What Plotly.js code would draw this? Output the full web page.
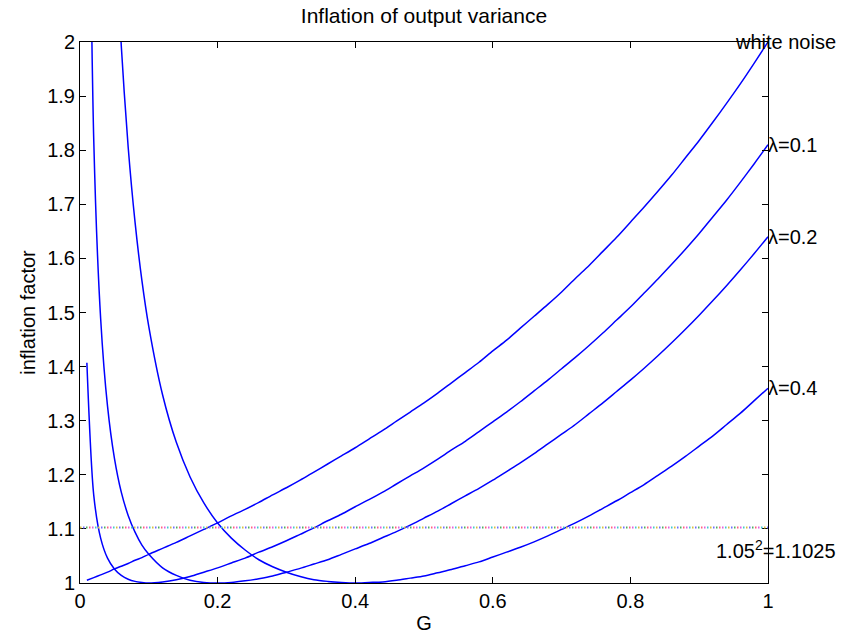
<!DOCTYPE html>
<html>
<head>
<meta charset="utf-8">
<script src="https://cdn.plot.ly/plotly-3.0.1.min.js"></script>
<style>
  html, body { margin: 0; padding: 0; background: #fff; }
  #chart { width: 846px; height: 639px; }
</style>
</head>
<body>
<div id="chart"></div>
<script>
// Loop gain G
const G = [0.01, 0.02, 0.03, 0.04, 0.05, 0.06, 0.07, 0.08, 0.09, 0.10,
  0.12, 0.14, 0.16, 0.18, 0.20, 0.22, 0.24, 0.26, 0.28, 0.30,
  0.32, 0.34, 0.36, 0.38, 0.40, 0.42, 0.44, 0.46, 0.48, 0.50,
  0.52, 0.54, 0.56, 0.58, 0.60, 0.62, 0.64, 0.66, 0.68, 0.70,
  0.72, 0.74, 0.76, 0.78, 0.80, 0.82, 0.84, 0.86, 0.88, 0.90,
  0.92, 0.94, 0.96, 0.98, 1.00];

// Inflation factor of the output variance, white-noise disturbance
const whiteNoise = [1.005, 1.010, 1.015, 1.020, 1.026, 1.031, 1.036, 1.042, 1.047, 1.053,
  1.064, 1.075, 1.087, 1.099, 1.111, 1.124, 1.136, 1.149, 1.163, 1.176,
  1.190, 1.205, 1.220, 1.235, 1.250, 1.266, 1.282, 1.299, 1.316, 1.333,
  1.351, 1.370, 1.389, 1.408, 1.429, 1.449, 1.471, 1.493, 1.515, 1.538,
  1.563, 1.587, 1.613, 1.639, 1.667, 1.695, 1.724, 1.754, 1.786, 1.818,
  1.852, 1.887, 1.923, 1.961, 2.000];

// lambda = 0.1
const lambda01 = [1.407, 1.162, 1.083, 1.046, 1.026, 1.014, 1.007, 1.003, 1.001, 1.000,
  1.002, 1.006, 1.012, 1.020, 1.028, 1.037, 1.046, 1.057, 1.067, 1.078,
  1.090, 1.102, 1.115, 1.127, 1.141, 1.154, 1.168, 1.183, 1.198, 1.213,
  1.229, 1.246, 1.262, 1.280, 1.298, 1.316, 1.335, 1.355, 1.375, 1.396,
  1.417, 1.439, 1.462, 1.486, 1.510, 1.536, 1.562, 1.589, 1.617, 1.646,
  1.677, 1.708, 1.741, 1.775, 1.810];

// lambda = 0.2
const lambda02 = [2.814, 1.818, 1.489, 1.327, 1.231, 1.168, 1.125, 1.094, 1.070, 1.053,
  1.028, 1.014, 1.005, 1.001, 1.000, 1.001, 1.004, 1.008, 1.013, 1.020,
  1.027, 1.035, 1.043, 1.053, 1.063, 1.073, 1.084, 1.095, 1.107, 1.120,
  1.133, 1.147, 1.161, 1.175, 1.190, 1.206, 1.222, 1.239, 1.257, 1.275,
  1.293, 1.313, 1.333, 1.354, 1.375, 1.397, 1.420, 1.444, 1.469, 1.495,
  1.522, 1.550, 1.579, 1.609, 1.640];

// lambda = 0.4
const lambda04 = [8.643, 4.646, 3.316, 2.653, 2.256, 1.993, 1.806, 1.667, 1.559, 1.474,
  1.348, 1.260, 1.196, 1.148, 1.111, 1.083, 1.061, 1.043, 1.030, 1.020,
  1.012, 1.006, 1.003, 1.001, 1.000, 1.001, 1.002, 1.005, 1.009, 1.013,
  1.019, 1.025, 1.032, 1.039, 1.048, 1.057, 1.066, 1.076, 1.087, 1.099,
  1.111, 1.124, 1.138, 1.152, 1.167, 1.182, 1.199, 1.216, 1.234, 1.253,
  1.272, 1.293, 1.314, 1.337, 1.360];

// Acceptable limit: 1.05^2
const limit = 1.1025;

const seriesNames = ['white noise', 'λ=0.1', 'λ=0.2', 'λ=0.4'];
const seriesValues = [whiteNoise, lambda01, lambda02, lambda04];
const labelY = [2.0, 1.81, 1.64, 1.36];
const labelX = [0.952, 1.0, 1.0, 1.0];

const FONT = 'Liberation Sans, Arial, Helvetica, sans-serif';
const FS = 20;

const traces = seriesValues.map((vals, i) => ({
  x: G,
  y: vals,
  type: 'scatter',
  mode: 'lines',
  name: seriesNames[i],
  line: { color: '#0000ff', width: 1.5, shape: 'spline', smoothing: 0.8 },
  hoverinfo: 'x+y'
}));

// multicoloured dotted line at the limit, built from phase-shifted dash patterns
const dotColors = ['#d8c040', '#6f6fff', '#50b060', '#ff6080', '#e060e0', '#40c8d0'];
const pxPerUnit = 688;
const shapes = dotColors.map((c, k) => ({
  type: 'line', xref: 'x', yref: 'y',
  x0: (k * 3) / pxPerUnit, x1: 1, y0: limit, y1: limit,
  line: { color: c, width: 2, dash: '1.5px,16.5px' }
}));

const annotations = seriesNames.map((name, i) => ({
  x: labelX[i], y: labelY[i], xref: 'x', yref: 'y',
  text: name, showarrow: false,
  xanchor: 'left', yanchor: 'middle',
  xshift: -2,
  font: { family: FONT, size: FS, color: '#000' }
}));
annotations.push({
  x: 0.921, y: 1.062, xref: 'x', yref: 'y',
  text: '1.05<sup>2</sup>=1.1025', showarrow: false,
  xanchor: 'left', yanchor: 'middle',
  font: { family: FONT, size: FS, color: '#000' }
});

const layout = {
  width: 846, height: 639,
  margin: { l: 80, r: 78, t: 42, b: 56 },
  paper_bgcolor: '#fff', plot_bgcolor: '#fff',
  showlegend: false,
  font: { family: FONT, size: FS, color: '#000' },
  title: {
    text: 'Inflation of output variance',
    font: { family: FONT, size: 21, color: '#000' },
    x: 0.5, xref: 'paper', y: 1 - 16 / 639, yref: 'container', yanchor: 'middle'
  },
  xaxis: {
    range: [0, 1], dtick: 0.2, tick0: 0,
    ticks: 'inside', ticklen: 6, tickcolor: '#000',
    showline: true, linecolor: '#000', linewidth: 1, mirror: 'ticks',
    showgrid: false, zeroline: false,
    tickfont: { family: FONT, size: FS, color: '#000' },
    title: { text: 'G', font: { family: FONT, size: 20, color: '#000' }, standoff: 4 }
  },
  yaxis: {
    range: [1, 2], dtick: 0.1, tick0: 1,
    ticks: 'inside', ticklen: 6, tickcolor: '#000',
    showline: true, linecolor: '#000', linewidth: 1, mirror: 'ticks',
    showgrid: false, zeroline: false,
    tickfont: { family: FONT, size: FS, color: '#000' },
    title: { text: 'inflation factor', font: { family: FONT, size: 20, color: '#000' }, standoff: 6 }
  },
  shapes: shapes,
  annotations: annotations
};

Plotly.newPlot('chart', traces, layout, { displayModeBar: false, staticPlot: true });
</script>
</body>
</html>
